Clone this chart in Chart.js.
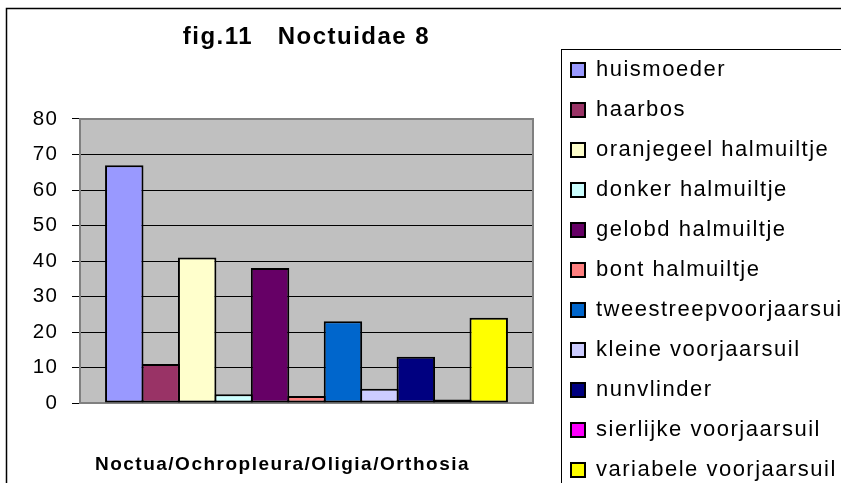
<!DOCTYPE html>
<html>
<head>
<meta charset="utf-8">
<script src="https://cdn.jsdelivr.net/npm/chart.js@4.4.1/dist/chart.umd.min.js"></script>
<style>
  html, body { margin: 0; padding: 0; background: #fff; overflow: hidden; }
  canvas { display: block; }
</style>
</head>
<body>
<canvas id="noctuidaeChart" width="841" height="520"></canvas>
<script>
/* globals Chart:false */

const categories = ['Noctua/Ochropleura/Oligia/Orthosia']
const seriesNames = [
  'huismoeder',
  'haarbos',
  'oranjegeel halmuiltje',
  'donker halmuiltje',
  'gelobd halmuiltje',
  'bont halmuiltje',
  'tweestreepvoorjaarsuil',
  'kleine voorjaarsuil',
  'nunvlinder',
  'sierlijke voorjaarsuil',
  'variabele voorjaarsuil'
]
const seriesValues = [67, 11, 41, 2.5, 38, 2, 23, 4, 13, 1, 24]
const yTicks = [0, 10, 20, 30, 40, 50, 60, 70, 80]

const seriesColors = [
  '#9999ff', '#993366', '#ffffcc', '#ccffff', '#660066', '#ff8080',
  '#0066cc', '#ccccff', '#000080', '#ff00ff', '#ffff00'
]

;(() => {
  'use strict'

  const FONT = "'Liberation Sans', Arial, sans-serif"
  const SPACING = '1.5px'
  Chart.defaults.color = '#000'
  Chart.defaults.font.family = FONT

  // excel look: grey plot area, outer frames, wide text
  const frame = {
    id: 'frame',
    beforeLayout(chart) {
      chart.ctx.letterSpacing = SPACING
    },
    beforeDraw(chart) {
      const { ctx, chartArea: a } = chart
      ctx.letterSpacing = SPACING
      ctx.save()
      ctx.strokeStyle = '#000'
      ctx.lineWidth = 1.5
      ctx.strokeRect(6.5, 8.5, 1000, 700)
      ctx.lineWidth = 1
      ctx.strokeRect(561.5, 49.5, 400, 700)
      ctx.fillStyle = '#c0c0c0'
      ctx.fillRect(a.left, a.top, a.right - a.left, a.bottom - a.top)
      ctx.restore()
    },
    beforeDatasetsDraw(chart) {
      const { ctx, chartArea: a } = chart
      ctx.save()
      ctx.strokeStyle = '#808080'
      ctx.lineWidth = 2
      ctx.strokeRect(a.left, a.top, a.right - a.left, a.bottom - a.top)
      ctx.restore()
    }
  }

  const ctx = document.getElementById('noctuidaeChart')
  // eslint-disable-next-line no-unused-vars
  const myChart = new Chart(ctx, {
    type: 'bar',
    data: {
      labels: categories,
      datasets: seriesNames.map((name, i) => ({
        label: name,
        data: [seriesValues[i]],
        backgroundColor: seriesColors[i],
        borderColor: '#000',
        borderWidth: 2,
        borderSkipped: false,
        categoryPercentage: 0.885,
        barPercentage: 1.055
      }))
    },
    options: {
      responsive: false,
      animation: false,
      layout: {
        padding: { top: 0, left: 0, right: 0, bottom: 0 }
      },
      scales: {
        x: {
          grid: { display: false, drawTicks: false },
          border: { display: false },
          ticks: {
            font: { size: 19, weight: 'bold' },
            padding: 50.6,
            labelOffset: -24,
            maxRotation: 0,
            autoSkip: false
          },
          afterFit(scale) {
            scale.height = 117
          }
        },
        y: {
          min: 0,
          max: 80,
          grid: {
            color: c => (c.tick && (c.tick.value === 0 || c.tick.value === 80)) ? 'rgba(0,0,0,0)' : '#000',
            tickColor: '#000',
            tickLength: 8,
            lineWidth: 1
          },
          border: { display: false },
          afterBuildTicks(scale) {
            scale.ticks = yTicks.map(v => ({ value: v }))
          },
          ticks: {
            font: { size: 20.5 },
            padding: 13.5
          },
          afterFit(scale) {
            scale.width = 80
          }
        },
        gap: {
          position: 'right',
          grid: { display: false, drawTicks: false },
          border: { display: false },
          ticks: { display: false },
          afterFit(scale) {
            scale.width = 20
          }
        }
      },
      plugins: {
        title: {
          display: true,
          text: 'fig.11   Noctuidae 8',
          fullSize: false,
          font: { size: 24, weight: 'bold' },
          color: '#000',
          padding: { top: 22.6, bottom: 67.6 }
        },
        legend: {
          position: 'right',
          align: 'start',
          maxWidth: 288,
          title: {
            display: true,
            text: '',
            font: { size: 10, lineHeight: 1 },
            padding: { top: 31, bottom: 0 }
          },
          labels: {
            boxWidth: 14,
            boxHeight: 14,
            padding: 18,
            font: { size: 22 },
            color: '#000'
          }
        },
        tooltip: {
          enabled: false
        }
      }
    },
    plugins: [frame]
  })
})()
</script>
</body>
</html>
